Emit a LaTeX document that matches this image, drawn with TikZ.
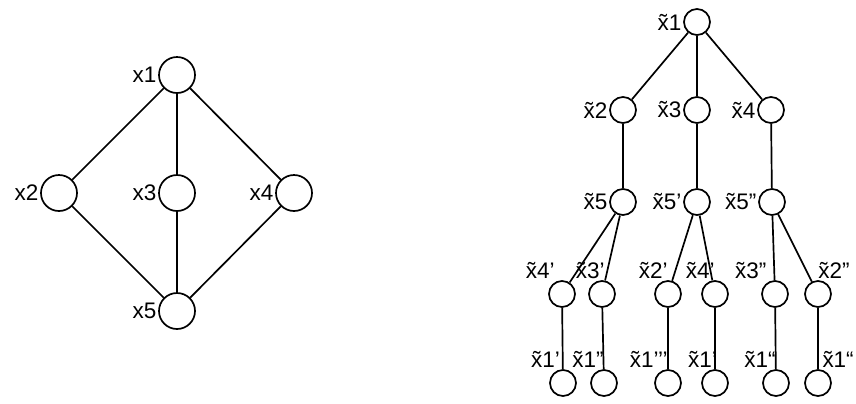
\documentclass[tikz,border=0pt]{standalone}
\usepackage{fontspec}
\setmainfont{Liberation Sans}

\begin{document}
\begin{tikzpicture}[x=0.025cm,y=-0.025cm,
    big/.style={circle,draw,line width=1.2pt,minimum size=0.9cm,inner sep=0pt},
    small/.style={circle,draw,line width=1.2pt,minimum size=0.65cm,inner sep=0pt},
    every label/.style={inner sep=0pt,font=\fontsize{16}{18}\selectfont},
    label distance=1pt,
    link/.style={line width=1.2pt}]

\useasboundingbox (0,0) rectangle (856,403);

% Graph
\node[big,label={left:x1}] (x1) at (177,75) {};
\node[big,label={left:x2}] (x2) at (59,193) {};
\node[big,label={left:x3}] (x3) at (177,193) {};
\node[big,label={left:x4}] (x4) at (294,193) {};
\node[big,label={left:x5}] (x5) at (177,311) {};

\foreach \a/\b in {x1/x2,x1/x3,x1/x4,x2/x5,x3/x5,x4/x5}
  \draw[link] (\a) -- (\b);

% Tree, top levels
\node[small,label={left:\~{x}1}] (t1) at (697,22) {};
\node[small,label={left:\~{x}2}] (t2) at (623,110) {};
\node[small,label={left:\~{x}3}] (t3) at (697,110) {};
\node[small,label={left:\~{x}4}] (t4) at (771,110) {};
\node[small,label={left:\~{x}5}] (t5a) at (623,202) {};
\node[small,label={left:\~{x}5’}] (t5b) at (697,202) {};
\node[small,label={left:\~{x}5”}] (t5c) at (772,202) {};

% Tree, fourth level
\node[small,label={[anchor=south east,xshift=-5pt]north:\~{x}4’}] (t4a) at (562,294) {};
\node[small,label={[anchor=south east,xshift=2pt]north:\~{x}3’}] (t3a) at (602,294) {};
\node[small,label={[anchor=south east]north:\~{x}2’}] (t2a) at (668,294) {};
\node[small,label={[anchor=south east]north:\~{x}4’}] (t4b) at (715,294) {};
\node[small,label={[anchor=south east,xshift=-6pt]north:\~{x}3”}] (t3b) at (775,294) {};
\node[small,label={[anchor=south west]north:\~{x}2”}] (t2b) at (818,294) {};

% Tree, leaves
\node[small,label={[anchor=south east,xshift=-2pt]north:\~{x}1’}] (t1a) at (563,383) {};
\node[small,label={[anchor=south east]north:\~{x}1”}] (t1b) at (604,383) {};
\node[small,label={[anchor=south east]north:\~{x}1’’’}] (t1c) at (668,383) {};
\node[small,label={[anchor=south east,xshift=1.5pt]north:\~{x}1’}] (t1d) at (715,383) {};
\node[small,label={[anchor=south east]north:\~{x}1“}] (t1e) at (776,383) {};
\node[small,label={[anchor=south west,xshift=3pt]north:\~{x}1“}] (t1f) at (818,383) {};

\foreach \a/\b in {t1/t2,t1/t3,t1/t4,t2/t5a,t3/t5b,t4/t5c,
    t5a/t4a,t5a/t3a,t5b/t2a,t5b/t4b,t5c/t3b,t5c/t2b,
    t4a/t1a,t3a/t1b,t2a/t1c,t4b/t1d,t3b/t1e,t2b/t1f}
  \draw[link] (\a) -- (\b);

\end{tikzpicture}
\end{document}
